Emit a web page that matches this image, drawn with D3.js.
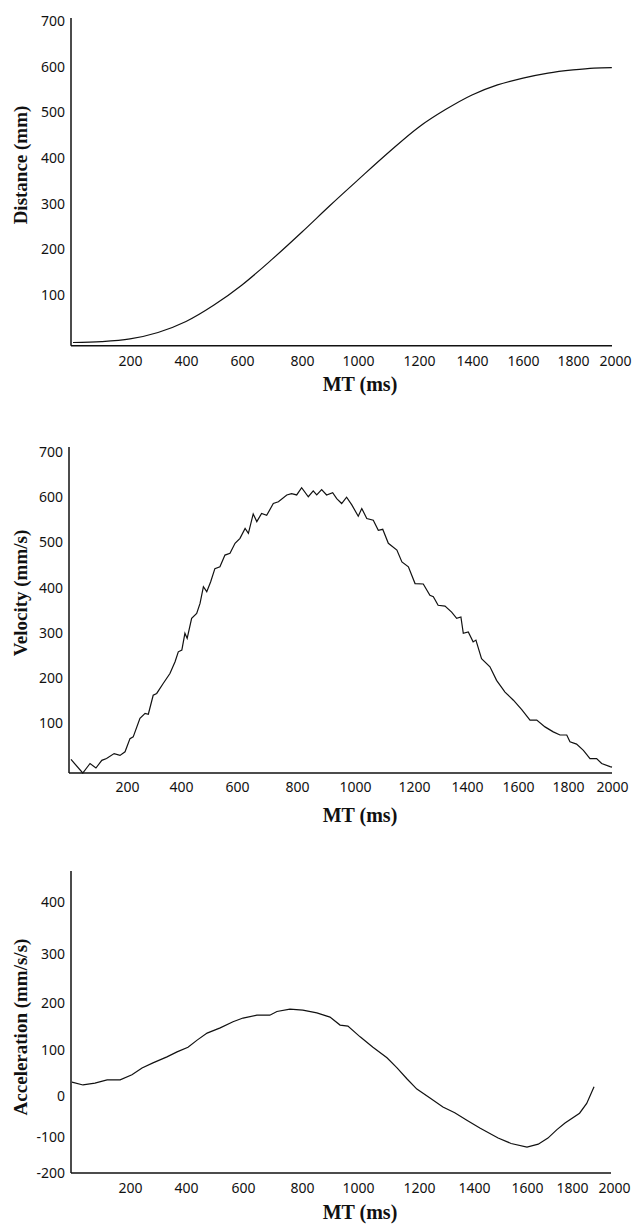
<!DOCTYPE html>
<html>
<head>
<meta charset="utf-8">
<style>
  body { margin: 0; background: #fff; }
  .tick text { font-family: "Noto Sans", sans-serif; font-size: 14px; fill: #111; }
  .title { font-family: "Liberation Serif", "Times New Roman", serif; font-weight: bold; fill: #111; }
</style>
</head>
<body>
<script src="https://d3js.org/d3.v7.min.js"></script>
<script>
  // x ticks (ms), shared by all three panels
  var msTicks = [0, 200, 400, 600, 800, 1000, 1200, 1400, 1600, 1800, 2000];
  var xTickLabels = [200, 400, 600, 800, 1000, 1200, 1400, 1600, 1800, 2000];

  // distance (mm) vs MT (ms)
  var distanceMs = [0, 100, 200, 300, 400, 500, 600, 700, 800, 900, 1000, 1100, 1200, 1300, 1400, 1500, 1600, 1700, 1800, 1900, 1985];
  var distanceMm = [-4, -2, 4, 18, 42, 78, 122, 178, 238, 296, 352, 412, 468, 506, 538, 560, 575, 586, 593, 597, 598];
  var distanceTicks = [100, 200, 300, 400, 500, 600, 700];

  // velocity (mm/s) vs MT (ms)
  var velocityMs = [0, 42, 68, 89, 110, 127, 154, 175, 193, 211, 223, 248, 267, 279, 297, 310, 334, 359, 378, 390,
    403, 414, 422, 438, 456, 468, 480, 492, 506, 521, 539, 557, 575, 593, 610, 627, 638, 654, 666, 682,
    699, 721, 738, 766, 782, 799, 816, 839, 856, 868, 885, 902, 923, 937, 954, 971, 989, 1011, 1023, 1040,
    1062, 1079, 1094, 1113, 1142, 1159, 1181, 1204, 1235, 1260, 1273, 1291, 1317, 1342, 1361, 1377, 1386, 1405, 1424, 1435,
    1457, 1490, 1516, 1549, 1582, 1615, 1648, 1675, 1708, 1741, 1768, 1795, 1809, 1839, 1870, 1900, 1930, 1953, 1991, 2000];
  var velocityMms = [20, -10, 11, 1, 18, 22, 33, 29, 37, 66, 70, 111, 122, 120, 162, 166, 188, 210, 236, 258,
    262, 299, 288, 332, 343, 365, 402, 391, 413, 442, 446, 472, 476, 498, 509, 531, 520, 563, 546, 564,
    560, 586, 590, 605, 608, 605, 621, 601, 614, 605, 617, 605, 610, 597, 586, 600, 583, 558, 575, 553,
    549, 527, 529, 498, 483, 457, 446, 409, 408, 383, 380, 361, 359, 346, 332, 335, 299, 302, 280, 284,
    243, 225, 195, 169, 151, 130, 107, 107, 92, 81, 74, 74, 59, 54, 40, 22, 22, 11, 4, 3];
  var velocityTicks = [100, 200, 300, 400, 500, 600, 700];

  // acceleration (mm/s/s) vs MT (ms)
  var accelMs = [0, 38, 79, 121, 166, 207, 243, 282, 332, 368, 407, 439, 474, 520, 565, 600, 647, 691, 715, 759,
    803, 853, 900, 936, 964, 1007, 1049, 1095, 1128, 1161, 1193, 1240, 1287, 1330, 1374, 1422, 1491, 1540, 1600, 1650,
    1693, 1733, 1769, 1836, 1870, 1905];
  var accelVal = [30, 24, 28, 35, 35, 46, 61, 72, 85, 96, 106, 121, 136, 147, 160, 168, 174, 174, 182, 187,
    185, 179, 170, 153, 151, 128, 106, 83, 61, 37, 15, -5, -27, -41, -59, -78, -103, -118, -128, -120,
    -103, -82, -66, -42, -18, 20];
  var accelTicks = [-200, -100, 0, 100, 200, 300, 400];

  var svg = d3.select("body").append("svg")
    .attr("width", 632)
    .attr("height", 1228);

  var panels = [
    { xs: distanceMs, ys: distanceMm, yTicks: distanceTicks, title: "Distance (mm)",
      xRange: [73, 130, 186, 242, 302, 358, 419, 472, 523, 573, 615],
      yDomain: [-11, 700], yRange: [345.7, 21],
      left: 71, right: 612, top: 18, bottom: 345.7, pad: 10, titleY: 165, mtY: 391, curve: d3.curveMonotoneX },
    { xs: velocityMs, ys: velocityMms, yTicks: velocityTicks, title: "Velocity (mm/s)",
      xRange: [71, 127, 181, 237, 297, 355, 414, 467, 518, 568, 612],
      yDomain: [-10, 700], yRange: [773, 452],
      left: 69, right: 612, top: 447, bottom: 773, pad: 9, titleY: 593, mtY: 822, curve: d3.curveLinear },
    { xs: accelMs, ys: accelVal, yTicks: accelTicks, title: "Acceleration (mm/s/s)",
      xRange: [72, 130, 186, 243, 302, 358, 419, 474, 527, 572, 614],
      yDomain: accelTicks, yRange: [1173, 1137, 1096, 1050, 1003, 954, 902],
      left: 71, right: 611, top: 871, bottom: 1173, pad: 10, titleY: 1027, mtY: 1219, curve: d3.curveLinear }
  ];

  // plain hyphen for negatives, no thousands separator
  var fmt = function(d) { return String(d); };

  panels.forEach(function(p) {
    var x = d3.scaleLinear().domain(msTicks).range(p.xRange);
    var y = d3.scaleLinear().domain(p.yDomain).range(p.yRange);

    // axis lines
    svg.append("line")
      .attr("x1", p.left).attr("x2", p.left)
      .attr("y1", p.top).attr("y2", p.bottom)
      .attr("stroke", "#111").attr("stroke-width", 1.5);
    svg.append("line")
      .attr("x1", p.left).attr("x2", p.right)
      .attr("y1", p.bottom).attr("y2", p.bottom)
      .attr("stroke", "#111").attr("stroke-width", 1.5);

    // tick labels only, no tick marks
    var gx = svg.append("g")
      .attr("transform", "translate(0," + p.bottom + ")")
      .call(d3.axisBottom(x).tickValues(xTickLabels).tickFormat(fmt).tickSize(0).tickPadding(p.pad));
    gx.select(".domain").remove();

    var gy = svg.append("g")
      .attr("transform", "translate(" + p.left + ",0)")
      .call(d3.axisLeft(y).tickValues(p.yTicks).tickFormat(fmt).tickSize(0).tickPadding(6));
    gy.select(".domain").remove();

    var line = d3.line()
      .x(function(d, i) { return x(p.xs[i]); })
      .y(function(d) { return y(d); })
      .curve(p.curve);

    svg.append("path")
      .datum(p.ys)
      .attr("d", line)
      .attr("fill", "none")
      .attr("stroke", "#111")
      .attr("stroke-width", 1.2);

    svg.append("text")
      .attr("class", "title")
      .attr("transform", "translate(27," + p.titleY + ") rotate(-90)")
      .attr("text-anchor", "middle")
      .style("font-size", "19px")
      .text(p.title);

    svg.append("text")
      .attr("class", "title")
      .attr("x", 360)
      .attr("y", p.mtY)
      .attr("text-anchor", "middle")
      .style("font-size", "20px")
      .text("MT (ms)");
  });
</script>
</body>
</html>
